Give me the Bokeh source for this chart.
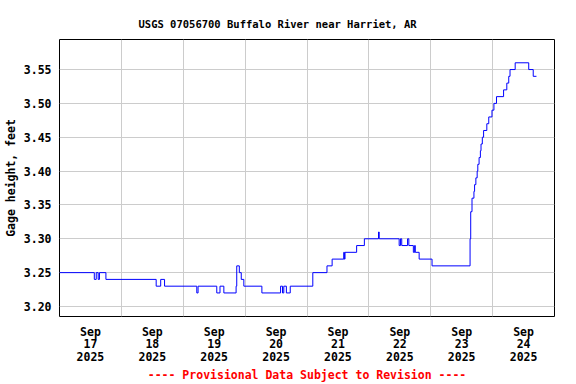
import pandas as pd
from bokeh.plotting import figure
from bokeh.models import FixedTicker, Range1d, ColumnDataSource
from bokeh.embed import file_html
from bokeh.resources import INLINE

FONT = "DejaVu Sans Mono"

title_text = "USGS 07056700 Buffalo River near Harriet, AR"
y_label = "Gage height, feet"
footer_text = "---- Provisional Data Subject to Revision ----"

# change points of the gage height record (value holds until next time)
times = [
    "2025-09-17 00:00", "2025-09-17 13:30", "2025-09-17 14:15", "2025-09-17 15:00",
    "2025-09-17 15:30", "2025-09-17 18:00", "2025-09-18 13:30", "2025-09-18 15:15",
    "2025-09-18 16:45", "2025-09-19 05:15", "2025-09-19 05:45", "2025-09-19 13:00",
    "2025-09-19 14:15", "2025-09-19 15:45", "2025-09-19 20:30", "2025-09-19 20:45",
    "2025-09-19 21:45", "2025-09-19 22:30", "2025-09-19 23:30", "2025-09-20 06:30",
    "2025-09-20 13:45", "2025-09-20 14:30", "2025-09-20 15:00", "2025-09-20 16:00",
    "2025-09-20 17:30", "2025-09-21 02:15", "2025-09-21 07:45", "2025-09-21 09:45",
    "2025-09-21 14:15", "2025-09-21 14:30", "2025-09-21 14:45", "2025-09-21 19:15",
    "2025-09-21 22:15", "2025-09-22 03:45", "2025-09-22 04:00", "2025-09-22 11:45",
    "2025-09-22 12:15", "2025-09-22 12:45", "2025-09-22 15:00", "2025-09-22 15:30",
    "2025-09-22 17:15", "2025-09-22 17:45", "2025-09-22 18:00", "2025-09-22 19:30",
    "2025-09-23 00:30", "2025-09-23 15:15", "2025-09-23 15:30", "2025-09-23 16:00",
    "2025-09-23 16:45", "2025-09-23 17:00", "2025-09-23 17:30", "2025-09-23 18:00",
    "2025-09-23 18:15", "2025-09-23 18:45", "2025-09-23 19:15", "2025-09-23 19:30",
    "2025-09-23 20:00", "2025-09-23 20:30", "2025-09-23 21:45", "2025-09-23 22:30",
    "2025-09-23 23:45", "2025-09-24 00:30", "2025-09-24 01:30", "2025-09-24 04:15",
    "2025-09-24 05:30", "2025-09-24 06:15", "2025-09-24 06:45", "2025-09-24 08:45",
    "2025-09-24 14:00", "2025-09-24 15:45", "2025-09-24 17:00",
]
gage_ft = [
    3.25, 3.24, 3.25, 3.24,
    3.25, 3.24, 3.23, 3.24,
    3.23, 3.22, 3.23, 3.22,
    3.23, 3.22, 3.23, 3.26,
    3.25, 3.24, 3.23, 3.22,
    3.23, 3.22, 3.23, 3.22,
    3.23, 3.25, 3.26, 3.27,
    3.28, 3.27, 3.28, 3.29,
    3.30, 3.31, 3.30, 3.29,
    3.30, 3.29, 3.30, 3.29,
    3.28, 3.29, 3.28, 3.27,
    3.26, 3.30, 3.34, 3.36,
    3.37, 3.38, 3.39, 3.40,
    3.41, 3.42, 3.43, 3.44,
    3.45, 3.46, 3.47, 3.48,
    3.49, 3.50, 3.51, 3.52,
    3.53, 3.54, 3.55, 3.56,
    3.55, 3.54, 3.54,
]

x_start = "2025-09-17 00:00"
x_end = "2025-09-25 00:00"
label_times = ["2025-09-17 12:00", "2025-09-18 12:00", "2025-09-19 12:00", "2025-09-20 12:00",
               "2025-09-21 12:00", "2025-09-22 12:00", "2025-09-23 12:00", "2025-09-24 12:00"]
day_labels = ["Sep\n17\n2025", "Sep\n18\n2025", "Sep\n19\n2025", "Sep\n20\n2025",
              "Sep\n21\n2025", "Sep\n22\n2025", "Sep\n23\n2025", "Sep\n24\n2025"]
grid_times = ["2025-09-18 00:00", "2025-09-19 00:00", "2025-09-20 00:00", "2025-09-21 00:00",
              "2025-09-22 00:00", "2025-09-23 00:00", "2025-09-24 00:00"]
y_ticks = [3.20, 3.25, 3.30, 3.35, 3.40, 3.45, 3.50, 3.55]
y_tick_labels = ["3.20", "3.25", "3.30", "3.35", "3.40", "3.45", "3.50", "3.55"]
y_min, y_max = 3.1852, 3.5944


def to_ms(vals):
    s = pd.to_datetime(pd.Series(vals))
    return [float(v) for v in ((s - pd.Timestamp("1970-01-01")) // pd.Timedelta("1ms"))]


src = ColumnDataSource(dict(t=pd.to_datetime(pd.Series(times)), h=gage_ft))

x0, x1 = to_ms([x_start, x_end])
label_ms = to_ms(label_times)
grid_ms = to_ms(grid_times)

p = figure(width=576, height=384, x_axis_type="datetime",
           output_backend="svg", toolbar_location=None,
           x_range=Range1d(x0, x1), y_range=Range1d(y_min, y_max),
           min_border_left=58, min_border_right=22,
           min_border_top=39, min_border_bottom=68)

p.step(x="t", y="h", source=src, mode="after", line_color="#0000ff", line_width=1)

# title
p.title.text = title_text
p.title.text_font = FONT
p.title.text_font_size = "10.5px"
p.title.text_font_style = "bold"
p.title.text_color = "black"
p.title.align = "left"
p.title.offset = 79
p.title.standoff = 19

# frame
p.outline_line_color = "black"
p.outline_line_width = 1
p.background_fill_color = "white"
p.border_fill_color = "white"

# grids
p.xgrid.ticker = FixedTicker(ticks=grid_ms)
p.ygrid.ticker = FixedTicker(ticks=y_ticks)
for g in (p.xgrid[0], p.ygrid[0]):
    g.grid_line_color = "#cccccc"
    g.grid_line_width = 1

# x axis
xa = p.xaxis[0]
xa.ticker = FixedTicker(ticks=label_ms)
xa.major_label_overrides = {ms: lab for ms, lab in zip(label_ms, day_labels)}
xa.axis_line_color = None
xa.major_tick_line_color = None
xa.minor_tick_line_color = None
xa.major_tick_out = 0
xa.major_tick_in = 0
xa.minor_tick_out = 0
xa.major_label_standoff = 8
xa.major_label_text_font = FONT
xa.major_label_text_font_style = "bold"
xa.major_label_text_font_size = "11.5px"
xa.major_label_text_color = "black"
xa.major_label_text_line_height = 0.9
xa.axis_label = footer_text
xa.axis_label_text_font = FONT
xa.axis_label_text_font_style = "bold"
xa.axis_label_text_font_size = "11.5px"
xa.axis_label_text_color = "#ff0000"
xa.axis_label_standoff = 1

# y axis
ya = p.yaxis[0]
ya.ticker = FixedTicker(ticks=y_ticks)
ya.major_label_overrides = {v: s for v, s in zip(y_ticks, y_tick_labels)}
ya.axis_line_color = None
ya.major_tick_line_color = None
ya.minor_tick_line_color = None
ya.major_tick_out = 0
ya.major_tick_in = 0
ya.minor_tick_out = 0
ya.major_label_standoff = 8
ya.major_label_text_font = FONT
ya.major_label_text_font_style = "bold"
ya.major_label_text_font_size = "11.5px"
ya.major_label_text_color = "black"
ya.axis_label = y_label
ya.axis_label_text_font = FONT
ya.axis_label_text_font_style = "bold"
ya.axis_label_text_font_size = "11.5px"
ya.axis_label_text_color = "black"
ya.axis_label_standoff = 3

open("out.html", "w").write(file_html(p, INLINE))
